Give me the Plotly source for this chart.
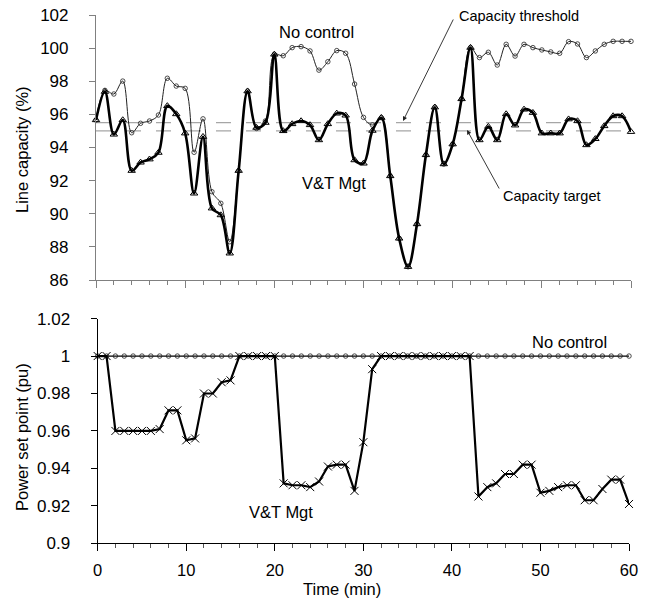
import plotly.graph_objects as go

# ---------------- data ----------------
time_min = list(range(0, 61))

vt_capacity = [95.66, 97.37, 94.79, 95.66, 92.60, 93.10, 93.29, 93.69, 96.51, 96.02,
               94.86, 91.23, 94.65, 90.33, 89.92, 87.61, 92.60, 97.40, 95.20, 95.50,
               99.62, 95.00, 95.42, 95.60, 95.36, 94.45, 95.42, 96.06, 95.94, 93.24,
               93.04, 95.02, 95.80, 92.28, 88.51, 86.80, 89.38, 93.55, 96.43, 93.00,
               94.20, 96.93, 100.03, 94.45, 95.26, 94.45, 96.02, 95.34, 96.30, 96.10,
               94.86, 94.86, 94.86, 95.71, 95.60, 94.15, 94.52, 95.30, 95.90, 95.90,
               94.95]

nc_capacity = [95.66, 97.45, 97.23, 98.01, 94.89, 95.46, 95.60, 95.96, 98.18, 97.71,
               97.57, 93.71, 95.73, 91.33, 90.63, 88.31, 92.60, 97.40, 95.15, 95.60,
               99.62, 99.54, 100.03, 100.09, 99.83, 98.67, 99.18, 99.85, 99.69, 97.83,
               95.82, 95.36, 95.80, 92.28, 88.51, 86.80, 89.38, 93.55, 96.43, 93.00,
               94.20, 96.93, 100.03, 99.43, 99.75, 98.98, 100.23, 99.52, 100.23, 100.03,
               99.89, 99.77, 99.69, 100.39, 100.25, 99.43, 99.83, 100.23, 100.41, 100.41,
               100.41]

capacity_threshold = 95.5
capacity_target = 95.0
limit_x = [0, 60]

vt_power = [1.0, 1.0, 0.960, 0.960, 0.960, 0.960, 0.960, 0.961, 0.971, 0.971,
            0.955, 0.956, 0.980, 0.980, 0.986, 0.987, 1.0, 1.0, 1.0, 1.0,
            1.0, 0.932, 0.931, 0.931, 0.930, 0.933, 0.941, 0.942, 0.942, 0.928,
            0.954, 0.993, 1.0, 1.0, 1.0, 1.0, 1.0, 1.0, 1.0, 1.0,
            1.0, 1.0, 1.0, 0.925, 0.930, 0.932, 0.937, 0.937, 0.942, 0.942,
            0.927, 0.928, 0.930, 0.931, 0.931, 0.923, 0.923, 0.929, 0.934, 0.934,
            0.921]

nc_power = [1.0, 1.0, 1.0, 1.0, 1.0, 1.0, 1.0, 1.0, 1.0, 1.0,
            1.0, 1.0, 1.0, 1.0, 1.0, 1.0, 1.0, 1.0, 1.0, 1.0,
            1.0, 1.0, 1.0, 1.0, 1.0, 1.0, 1.0, 1.0, 1.0, 1.0,
            1.0, 1.0, 1.0, 1.0, 1.0, 1.0, 1.0, 1.0, 1.0, 1.0,
            1.0, 1.0, 1.0, 1.0, 1.0, 1.0, 1.0, 1.0, 1.0, 1.0,
            1.0, 1.0, 1.0, 1.0, 1.0, 1.0, 1.0, 1.0, 1.0, 1.0,
            1.0]

cap_ticks = [86, 88, 90, 92, 94, 96, 98, 100, 102]
pow_ticks = [0.9, 0.92, 0.94, 0.96, 0.98, 1.0, 1.02]
pow_tick_text = ["0.9", "0.92", "0.94", "0.96", "0.98", "1", "1.02"]
time_ticks = [0, 10, 20, 30, 40, 50, 60]

# ---------------- figure ----------------
FONT = "Liberation Sans, Arial, sans-serif"
W, H = 667, 599

def px(x):
    return x / W

def py(y):
    return 1 - y / H

fig = go.Figure()

# threshold / target lines (top)
fig.add_trace(go.Scatter(x=limit_x, y=[capacity_threshold] * 2, mode="lines",
                         line=dict(color="#a6a6a6", width=1.3, dash="longdash"),
                         xaxis="x", yaxis="y", hoverinfo="skip"))
fig.add_trace(go.Scatter(x=limit_x, y=[capacity_target] * 2, mode="lines",
                         line=dict(color="#a6a6a6", width=1.3, dash="longdash"),
                         xaxis="x", yaxis="y", hoverinfo="skip"))

# No control (top)
fig.add_trace(go.Scatter(x=time_min, y=nc_capacity, mode="lines+markers",
                         line=dict(color="#222222", width=1, shape="spline", smoothing=1),
                         marker=dict(symbol="circle-open", size=4.5, color="#222222",
                                     line=dict(width=0.8)),
                         cliponaxis=False, xaxis="x", yaxis="y"))
# V&T Mgt (top)
fig.add_trace(go.Scatter(x=time_min, y=vt_capacity, mode="lines+markers",
                         line=dict(color="black", width=2.6, shape="spline", smoothing=1),
                         marker=dict(symbol="triangle-up-open", size=6.5, color="black",
                                     line=dict(width=1)),
                         cliponaxis=False, xaxis="x", yaxis="y"))

# No control (bottom)
fig.add_trace(go.Scatter(x=time_min, y=nc_power, mode="lines+markers",
                         line=dict(color="black", width=1.2),
                         marker=dict(symbol="circle-open", size=4.5, color="#222222",
                                     line=dict(width=0.8)),
                         cliponaxis=False, xaxis="x2", yaxis="y2"))
# V&T Mgt (bottom)
fig.add_trace(go.Scatter(x=time_min, y=vt_power, mode="lines+markers",
                         line=dict(color="black", width=2.2),
                         marker=dict(symbol="x-thin", size=8, color="black",
                                     line=dict(width=1, color="black")),
                         cliponaxis=False, xaxis="x2", yaxis="y2"))

axis_font = dict(family=FONT, size=17, color="black")
xtick_font = dict(family=FONT, size=16.5, color="black")
gray = "#808080"

fig.update_layout(
    width=W, height=H,
    margin=dict(l=0, r=0, t=0, b=0, autoexpand=False),
    paper_bgcolor="white", plot_bgcolor="white",
    showlegend=False,
    font=dict(family=FONT, color="black"),
    xaxis=dict(domain=[px(96), px(631)], anchor="y", range=[0, 60], automargin=False,
               tickvals=time_ticks, showticklabels=False,
               ticks="outside", ticklen=7, tickcolor=gray, tickwidth=1,
               minor=dict(dtick=2, ticks="outside", ticklen=4, tickcolor=gray, tickwidth=1),
               showline=True, linecolor=gray, linewidth=1.2,
               showgrid=False, zeroline=False),
    yaxis=dict(domain=[py(280), py(15)], anchor="x", range=[86, 102], automargin=False,
               tickvals=cap_ticks, tickfont=axis_font,
               ticks="outside", ticklen=6, tickcolor=gray, tickwidth=1,
               ticklabelstandoff=17,
               showline=True, linecolor=gray, linewidth=1.2,
               showgrid=False, zeroline=False),
    xaxis2=dict(domain=[px(97.7), px(629)], anchor="y2", range=[0, 60], automargin=False,
                tickvals=time_ticks, tickfont=xtick_font,
                ticks="outside", ticklen=7, tickcolor="black", tickwidth=1,
                minor=dict(dtick=2, ticks="outside", ticklen=4, tickcolor="#555555", tickwidth=1),
                ticklabelstandoff=5,
                showline=True, linecolor="black", linewidth=1.2,
                showgrid=False, zeroline=False),
    yaxis2=dict(domain=[py(543.3), py(318.6)], anchor="x2", range=[0.9, 1.02], automargin=False,
                tickvals=pow_ticks, ticktext=pow_tick_text, tickfont=axis_font,
                ticks="outside", ticklen=6, tickcolor="black", tickwidth=1,
                ticklabelstandoff=17,
                showline=True, linecolor="black", linewidth=1.2,
                showgrid=False, zeroline=False),
)

lab = dict(family=FONT, size=16.5, color="black")
small = dict(family=FONT, size=14.5, color="black")

annotations = [
    # axis titles
    dict(text="Line capacity (%)", x=px(22), y=py(150), xref="paper", yref="paper",
         textangle=-90, showarrow=False, font=lab, xanchor="center", yanchor="middle"),
    dict(text="Power set point (pu)", x=px(22), y=py(437), xref="paper", yref="paper",
         textangle=-90, showarrow=False, font=lab, xanchor="center", yanchor="middle"),
    dict(text="Time (min)", x=px(342), y=py(589), xref="paper", yref="paper",
         showarrow=False, font=lab, xanchor="center", yanchor="middle"),
    # series labels
    dict(text="No control", x=px(316), y=py(32), xref="paper", yref="paper",
         showarrow=False, font=lab, xanchor="center", yanchor="middle"),
    dict(text="V&T Mgt", x=px(334), y=py(183), xref="paper", yref="paper",
         showarrow=False, font=lab, xanchor="center", yanchor="middle"),
    dict(text="No control", x=px(569), y=py(342), xref="paper", yref="paper",
         showarrow=False, font=lab, xanchor="center", yanchor="middle"),
    dict(text="V&T Mgt", x=px(281), y=py(512), xref="paper", yref="paper",
         showarrow=False, font=lab, xanchor="center", yanchor="middle"),
    dict(text="Capacity threshold", x=px(519), y=py(16), xref="paper", yref="paper",
         showarrow=False, font=small, xanchor="center", yanchor="middle"),
    dict(text="Capacity target", x=px(552), y=py(196), xref="paper", yref="paper",
         showarrow=False, font=small, xanchor="center", yanchor="middle"),
    # arrows (head at x/y, tail offset in pixels)
    dict(text="", x=px(403), y=py(121), xref="paper", yref="paper",
         ax=51, ay=-103, axref="pixel", ayref="pixel",
         showarrow=True, arrowhead=2, arrowsize=1, arrowwidth=0.9, arrowcolor="#222222"),
    dict(text="", x=px(467), y=py(130), xref="paper", yref="paper",
         ax=33, ay=60, axref="pixel", ayref="pixel",
         showarrow=True, arrowhead=2, arrowsize=1, arrowwidth=0.9, arrowcolor="#222222"),
]
fig.update_layout(annotations=annotations)

# remove the browser's default 8px body margin so the 667x599 figure fills the window
fig.write_html("out.html",
               config={"displayModeBar": False},
               post_script="document.body.style.margin='0px';document.body.style.overflow='hidden';")
